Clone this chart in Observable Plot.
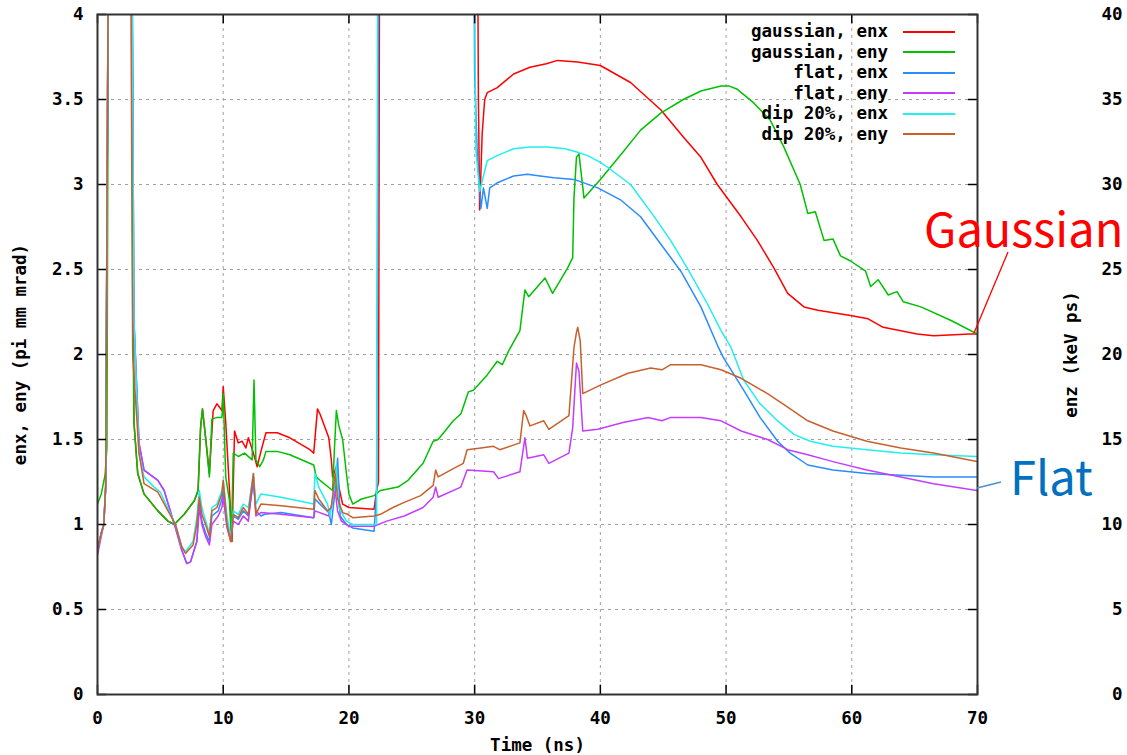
<!DOCTYPE html>
<html><head><meta charset="utf-8">
<script src="https://cdn.jsdelivr.net/npm/d3@7"></script>
<script src="https://cdn.jsdelivr.net/npm/@observablehq/plot@0.6"></script>
<style>
body{margin:0;background:#fff;}
#wrap{position:relative;width:1127px;height:755px;overflow:hidden;background:#fff;}
#wrap svg{display:block;}
.leg{position:absolute;left:0;width:888px;text-align:right;font:bold 17.5px "DejaVu Sans Mono";line-height:20px;color:#000;white-space:pre;}
.legline{position:absolute;left:903px;width:52px;height:2px;}
.ann{position:absolute;font-family:"Noto Sans CJK JP","Noto Sans";font-weight:400;font-size:47px;line-height:1;white-space:nowrap;}
</style></head><body><div id="wrap"></div>
<script>
// ---- data ----
const xTicks = [0,10,20,30,40,50,60,70];
const yTicks = [0,0.5,1,1.5,2,2.5,3,3.5,4];
const y2Labels = ["0","5","10","15","20","25","30","35","40"];
const seriesNames = ["gaussian, enx","gaussian, eny","flat, enx","flat, eny","dip 20%, enx","dip 20%, eny"];
const seriesColors = ["#ff0000","#00c000","#2a8cff","#c43cff","#22eeee","#c8602c"];

const gaussianEnx = [[0,0.85],[0.3,0.95],[0.5,1.0],[0.65,1.22],[0.9,5],[2.7,5],[2.9,1.6],[3.2,1.3],[3.7,1.18],[4.8,1.08],[5.6,1.02],[6.1,1.0],[6.9,1.06],[7.7,1.14],[8.0,1.2],[8.2,1.57],[8.35,1.68],[8.6,1.51],[8.9,1.3],[9.2,1.67],[9.5,1.71],[9.9,1.67],[10.0,1.81],[10.2,1.6],[10.5,1.2],[10.7,0.9],[10.9,1.55],[11.2,1.48],[11.5,1.49],[11.8,1.45],[12.0,1.51],[12.4,1.42],[12.7,1.34],[13.0,1.43],[13.4,1.54],[14.3,1.54],[15.3,1.51],[16.9,1.44],[17.2,1.42],[17.5,1.68],[17.7,1.65],[18.4,1.51],[18.6,1.38],[18.7,1.28],[19.0,1.34],[19.2,1.22],[19.5,1.12],[20.0,1.1],[22.0,1.09],[22.2,1.2],[22.35,1.25],[22.45,5],[30.2,5],[30.3,3.5],[30.4,2.85],[30.6,3.3],[30.8,3.5],[31.0,3.54],[31.8,3.57],[33.1,3.65],[34.4,3.69],[35.7,3.71],[36.6,3.73],[38.2,3.72],[40,3.70],[42.4,3.6],[44.8,3.44],[46.6,3.28],[48,3.16],[49.3,3.0],[51.2,2.81],[52.5,2.67],[53.8,2.51],[54.9,2.36],[56.2,2.28],[57.3,2.26],[59.9,2.23],[61.3,2.21],[62.5,2.16],[63.9,2.14],[65.2,2.12],[66.5,2.11],[69.4,2.12],[70,2.12]];

const gaussianEny = [[0,1.12],[0.3,1.18],[0.6,1.29],[0.75,1.45],[0.9,5],[2.7,5],[2.75,3.45],[2.8,2.3],[2.9,1.6],[3.2,1.3],[3.7,1.18],[4.8,1.08],[5.6,1.02],[6.1,1.0],[6.9,1.06],[7.7,1.14],[8.0,1.2],[8.2,1.57],[8.35,1.68],[8.6,1.51],[8.9,1.28],[9.1,1.62],[9.5,1.63],[9.9,1.63],[10.0,1.77],[10.2,1.28],[10.5,1.14],[10.65,0.9],[10.8,1.42],[11.2,1.4],[11.7,1.42],[12.3,1.38],[12.45,1.85],[12.6,1.38],[12.9,1.34],[13.2,1.38],[13.4,1.43],[14.3,1.43],[15.3,1.41],[17.2,1.35],[17.4,1.28],[17.7,1.26],[18.7,1.2],[18.85,1.45],[19.0,1.67],[19.2,1.58],[19.5,1.5],[19.8,1.3],[20.0,1.18],[20.3,1.12],[21.0,1.15],[22.0,1.17],[22.5,1.2],[23.9,1.22],[24.7,1.26],[25.9,1.36],[26.7,1.49],[27.1,1.5],[28.3,1.61],[28.9,1.65],[29.5,1.78],[29.9,1.79],[31.0,1.88],[31.8,1.96],[32.2,1.94],[32.7,2.02],[33.6,2.14],[34.0,2.38],[34.3,2.34],[35.6,2.45],[36.2,2.36],[37.4,2.51],[37.8,2.57],[37.9,2.92],[38.1,3.16],[38.3,3.18],[38.7,2.92],[40.0,3.03],[41.9,3.2],[43.2,3.32],[44.8,3.42],[46.6,3.5],[48,3.55],[49.6,3.58],[50.2,3.58],[50.9,3.56],[52.2,3.48],[53.5,3.38],[54.6,3.22],[55.9,3.0],[56.5,2.83],[57.1,2.84],[57.8,2.67],[58.5,2.68],[59.1,2.58],[59.9,2.55],[61.1,2.49],[61.5,2.4],[62.1,2.44],[62.9,2.35],[63.6,2.37],[64.1,2.31],[65.5,2.28],[67.9,2.2],[70,2.12]];

const flatEnx = [[0,0.85],[0.3,0.95],[0.5,1.0],[0.65,1.22],[0.9,5],[2.7,5],[2.9,2.2],[3.3,1.48],[3.7,1.32],[4.8,1.26],[5.3,1.2],[6.2,0.98],[6.7,0.85],[7.1,0.77],[7.4,0.78],[7.9,0.9],[8.1,1.12],[8.3,1.02],[8.6,0.95],[8.9,0.9],[9.1,1.05],[9.6,1.08],[9.9,1.15],[10.0,1.2],[10.3,1.0],[10.6,0.93],[10.8,1.05],[11.2,1.03],[11.6,1.08],[12.0,1.05],[12.4,1.25],[12.6,1.08],[13.0,1.05],[13.3,1.06],[14.6,1.07],[17.2,1.04],[17.3,1.15],[17.7,1.12],[18.4,1.07],[18.6,1.0],[18.9,1.2],[19.1,1.39],[19.3,1.05],[19.8,1.0],[20.3,0.98],[22.0,0.96],[22.2,1.2],[22.4,5],[29.9,5],[30.0,3.65],[30.2,3.2],[30.5,2.86],[30.7,2.98],[31.0,2.86],[31.2,2.98],[31.8,3.01],[33.1,3.05],[34.2,3.06],[35.2,3.05],[36.3,3.04],[37.9,3.03],[39.8,2.98],[41.6,2.91],[43.2,2.81],[44.8,2.65],[46.4,2.49],[48,2.28],[49.4,2.04],[49.8,1.98],[51.4,1.79],[52.7,1.63],[54.1,1.49],[55.1,1.42],[56.5,1.35],[58.5,1.32],[61.2,1.3],[63.9,1.29],[66.5,1.28],[70,1.28]];

const flatEny = [[0,0.82],[0.3,0.93],[0.5,1.0],[0.65,1.22],[0.9,5],[2.7,5],[2.9,2.2],[3.3,1.48],[3.7,1.32],[4.8,1.26],[5.3,1.2],[6.2,0.98],[6.7,0.85],[7.1,0.77],[7.4,0.78],[7.9,0.9],[8.1,1.1],[8.3,1.0],[8.6,0.93],[8.9,0.88],[9.1,1.0],[9.6,1.05],[9.9,1.1],[10.0,1.16],[10.3,0.98],[10.6,0.9],[10.8,1.02],[11.2,1.0],[11.6,1.05],[12.0,1.02],[12.4,1.28],[12.6,1.05],[13.0,1.07],[14.6,1.06],[17.2,1.04],[17.3,1.08],[18.4,1.05],[18.9,1.2],[19.1,1.08],[19.4,1.02],[20.0,0.99],[22.0,0.99],[23.0,1.02],[24.4,1.05],[25.9,1.1],[26.7,1.16],[26.9,1.22],[27.1,1.16],[28.9,1.22],[29.4,1.32],[31.5,1.31],[31.9,1.27],[33.6,1.31],[34.0,1.51],[34.2,1.39],[35.5,1.41],[35.9,1.36],[37.5,1.42],[37.8,1.57],[38.1,1.95],[38.3,1.9],[38.6,1.55],[39.8,1.56],[41.8,1.6],[43.8,1.63],[44.9,1.61],[45.6,1.63],[48,1.63],[49.6,1.61],[51.2,1.55],[53.3,1.5],[54.9,1.44],[56.5,1.41],[58.5,1.37],[61.2,1.32],[63.9,1.28],[66.5,1.24],[70,1.2]];

const dipEnx = [[0,0.85],[0.3,0.95],[0.5,1.0],[0.65,1.22],[0.9,5],[2.7,5],[2.9,2.2],[3.3,1.42],[3.7,1.28],[4.5,1.22],[5.0,1.19],[6.2,1.0],[6.7,0.87],[7.0,0.84],[7.6,0.9],[7.9,1.04],[8.1,1.2],[8.3,1.1],[8.6,1.02],[8.9,0.95],[9.1,1.1],[9.5,1.12],[9.9,1.2],[10.0,1.26],[10.3,1.05],[10.6,0.92],[10.8,1.08],[11.2,1.06],[11.6,1.12],[12.0,1.1],[12.4,1.3],[12.6,1.12],[13.0,1.18],[14.6,1.16],[17.2,1.12],[17.3,1.3],[17.6,1.22],[18.3,1.12],[18.5,1.05],[18.9,1.25],[19.0,1.35],[19.2,1.1],[19.8,1.02],[20.3,1.0],[22.0,1.0],[22.2,1.0],[22.3,5],[29.9,5],[30.1,3.2],[30.4,2.96],[31.0,3.14],[31.8,3.17],[33.1,3.21],[34.4,3.22],[35.8,3.22],[37.2,3.21],[38.2,3.19],[39,3.17],[40,3.13],[40.6,3.1],[42.4,3.0],[44.2,2.82],[45.6,2.67],[46.9,2.51],[48.5,2.3],[49.6,2.14],[50.4,2.04],[51.4,1.85],[52.7,1.71],[54.1,1.61],[55.4,1.53],[56.7,1.49],[58.5,1.46],[61.2,1.44],[63.9,1.42],[66.5,1.41],[70,1.4]];

const dipEny = [[0,0.85],[0.3,0.95],[0.5,1.0],[0.65,1.22],[0.9,5],[2.6,5],[2.8,2.0],[3.3,1.42],[3.7,1.24],[4.8,1.19],[6.2,1.0],[6.7,0.87],[7.0,0.83],[7.6,0.88],[7.9,1.0],[8.1,1.16],[8.3,1.06],[8.6,1.0],[8.9,0.93],[9.1,1.08],[9.5,1.1],[9.9,1.18],[10.0,1.26],[10.3,1.0],[10.6,0.9],[10.8,1.06],[11.2,1.04],[11.6,1.1],[12.0,1.06],[12.4,1.3],[12.6,1.06],[13.0,1.12],[14.6,1.11],[17.2,1.09],[17.3,1.2],[17.6,1.15],[18.3,1.08],[18.6,1.1],[18.9,1.3],[19.1,1.15],[19.5,1.07],[19.9,1.06],[20.3,1.04],[22.0,1.05],[22.5,1.06],[23.5,1.1],[24.4,1.13],[25.7,1.17],[26.7,1.23],[26.9,1.32],[27.1,1.28],[28.6,1.34],[29.1,1.36],[29.4,1.44],[30.5,1.45],[31.5,1.46],[32.0,1.44],[33.6,1.48],[33.9,1.67],[34.1,1.64],[34.4,1.58],[35.5,1.61],[35.9,1.56],[37.5,1.64],[37.9,2.04],[38.1,2.13],[38.2,2.16],[38.4,2.08],[38.6,1.77],[40.0,1.82],[42.2,1.89],[44.0,1.92],[44.9,1.91],[45.6,1.94],[48,1.94],[49.6,1.91],[51.2,1.86],[53.3,1.77],[54.9,1.69],[56.5,1.61],[58.5,1.55],[61.2,1.49],[63.9,1.45],[66.5,1.42],[70,1.37]];

const allSeries = [gaussianEnx, gaussianEny, flatEnx, flatEny, dipEnx, dipEny];
const xLabel = "Time (ns)";
const yLabel = "enx, eny (pi mm mrad)";
const y2Label = "enz (keV ps)";

// ---- chart ----
const font = {fontFamily: "DejaVu Sans Mono", fontWeight: "bold", fontSize: 17.5, fill: "#000"};
const grid = {stroke: "#a0a0a0", strokeOpacity: 1, strokeWidth: 1, strokeDasharray: "3,4"};

const lineMarks = allSeries.map((s, i) => Plot.line(s, {x: d => d[0], y: d => d[1], stroke: seriesColors[i], strokeWidth: 1.5, clip: true}));

const chart = Plot.plot({
  width: 1127, height: 755,
  marginLeft: 97, marginRight: 150, marginTop: 14, marginBottom: 61,
  style: {background: "#fff", fontFamily: "DejaVu Sans Mono", fontSize: "17.5px", fontWeight: "bold"},
  x: {domain: [0, 70], axis: null},
  y: {domain: [0, 4], axis: null},
  marks: [
    Plot.ruleX(xTicks.slice(1, -1), {...grid}),
    Plot.ruleY(yTicks.slice(1, -1), {...grid}),
    ...lineMarks,
    Plot.ruleX(xTicks, {y1: 0, y2: 0.055, stroke: "#000", strokeWidth: 1.5}),
    Plot.ruleX(xTicks, {y1: 3.945, y2: 4, stroke: "#000", strokeWidth: 1.5}),
    Plot.ruleY(yTicks, {x1: 0, x2: 0.72, stroke: "#000", strokeWidth: 1.5}),
    Plot.ruleY(yTicks, {x1: 69.28, x2: 70, stroke: "#000", strokeWidth: 1.5}),
    Plot.frame({stroke: "#333", strokeWidth: 2}),
    Plot.text(xTicks, {x: d => d, y: 0, dy: 24, text: d => String(d), textAnchor: "middle", ...font}),
    Plot.text(yTicks, {x: 0, y: d => d, dx: -14, text: d => String(d), textAnchor: "end", ...font}),
    Plot.text(yTicks, {x: 70, y: d => d, dx: 145, text: (d, i) => y2Labels[i], textAnchor: "end", ...font}),
    Plot.text([xLabel], {frameAnchor: "bottom", dy: 56, text: d => d, textAnchor: "middle", ...font}),
    Plot.text([yLabel], {frameAnchor: "left", dx: -77, rotate: -90, text: d => d, textAnchor: "middle", ...font}),
    Plot.text([y2Label], {frameAnchor: "right", dx: 94, rotate: -90, text: d => d, textAnchor: "middle", ...font})
  ]
});
const wrap = document.getElementById("wrap");
wrap.appendChild(chart);

// legend (inside plot, top right)
seriesNames.forEach((name, i) => {
  const cy = 31.5 + i * 20.5;
  const t = document.createElement("div");
  t.className = "leg"; t.textContent = name; t.style.top = (cy - 10.5) + "px";
  wrap.appendChild(t);
  const l = document.createElement("div");
  l.className = "legline"; l.style.top = (cy - 1) + "px"; l.style.background = seriesColors[i];
  wrap.appendChild(l);
});

// annotations
const ns = "http://www.w3.org/2000/svg";
const ov = document.createElementNS(ns, "svg");
ov.setAttribute("width", 1127); ov.setAttribute("height", 755);
ov.style.position = "absolute"; ov.style.left = "0"; ov.style.top = "0"; ov.style.pointerEvents = "none";
[[1008, 252, 974, 333, "#ff0000"], [1001, 482, 977, 488, "#4a90d0"]].forEach(([x1, y1, x2, y2, c]) => {
  const ln = document.createElementNS(ns, "line");
  ln.setAttribute("x1", x1); ln.setAttribute("y1", y1); ln.setAttribute("x2", x2); ln.setAttribute("y2", y2);
  ln.setAttribute("stroke", c); ln.setAttribute("stroke-width", 1.3);
  ov.appendChild(ln);
});
wrap.appendChild(ov);
const g = document.createElement("div");
g.className = "ann"; g.textContent = "Gaussian"; g.style.color = "#ff0000"; g.style.left = "924px"; g.style.top = "203px";
wrap.appendChild(g);
const f = document.createElement("div");
f.className = "ann"; f.textContent = "Flat"; f.style.color = "#0070c0"; f.style.left = "1010px"; f.style.top = "451px";
wrap.appendChild(f);
</script></body></html>
